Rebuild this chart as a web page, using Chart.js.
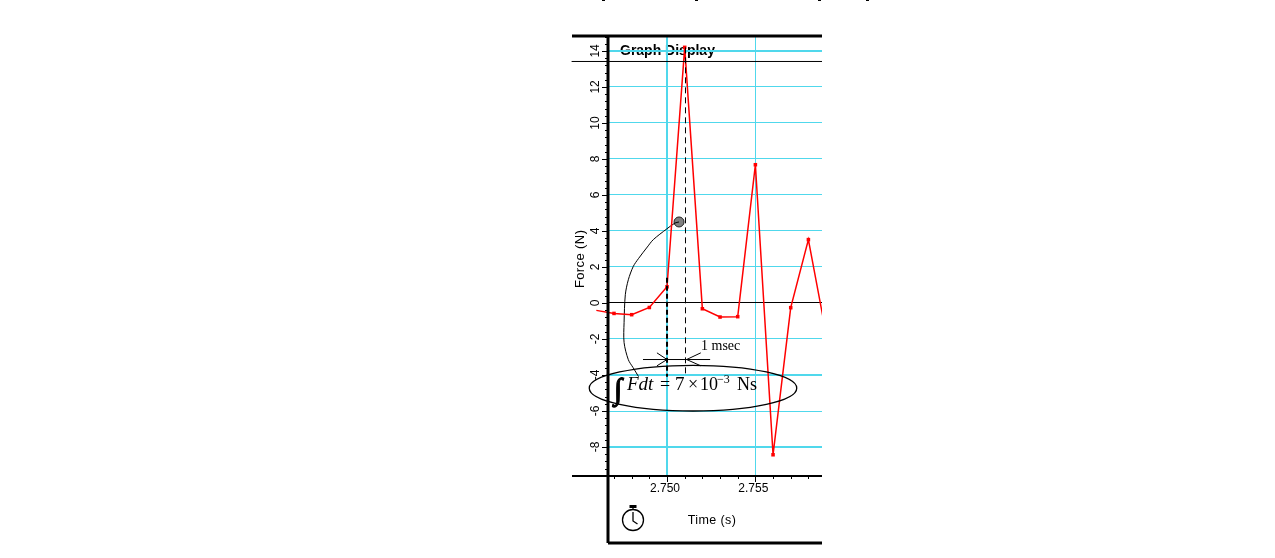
<!DOCTYPE html>
<html lang="en">
<head>
  <meta charset="UTF-8">
  <title>Graph Display</title>
  <script src="https://cdn.jsdelivr.net/npm/chart.js"></script>
  <style>
    body { margin: 0; background: #fff; }
    canvas { display: block; }
  </style>
</head>
<body>
  <canvas id="forceChart" width="1275" height="558"></canvas>

  <script>
    // values
    const timeValues = [2.746, 2.747, 2.748, 2.749, 2.750, 2.751, 2.752, 2.753, 2.754, 2.755, 2.756, 2.757, 2.758, 2.759];
    const forceValues = [-0.41, -0.58, -0.65, -0.25, 0.9, 14.2, -0.32, -0.78, -0.76, 7.68, -8.43, -0.26, 3.52, -1.7];

    const cursorTimes = [2.7446, 2.7588];
    const cursorForces = [13.415, 13.415];
    const leftDashTimes = [2.75, 2.75];
    const leftDashForces = [1.4, -4.1];
    const rightDashTimes = [2.751045, 2.751045];
    const rightDashForces = [14.2, -4.1];

    const spanTimes = [2.74864, 2.75244];
    const spanForces = [-3.14, -3.14];
    const leftArrowTimes = [2.74943, 2.75, 2.74943];
    const leftArrowForces = [-2.77, -3.14, -3.49];
    const rightArrowTimes = [2.75191, 2.75111, 2.75191];
    const rightArrowForces = [-2.77, -3.14, -3.49];

    const leaderTimes = [2.75068, 2.75045, 2.74998, 2.749225, 2.748885, 2.74838, 2.74809, 2.74781, 2.74764, 2.74757, 2.74757, 2.74781, 2.74808, 2.74839];
    const leaderForces = [4.5, 4.44, 4.11, 3.52, 3.11, 2.46, 2.03, 1.29, 0.46, -1.09, -2.2, -3.15, -3.59, -4.09];
    const markerTime = [2.75068];
    const markerForce = [4.5];

    const ellipseTime = 2.75147, ellipseForce = -4.73, ellipseHalfTime = 0.00587, ellipseHalfForce = 1.27;

    const pairs = (xs, ys) => xs.map((x, i) => ({ x: x, y: ys[i] }));
    const black = { borderColor: '#000', pointRadius: 0, borderWidth: 1, clip: { left: 40, right: 0, top: 0, bottom: 0 } };

    const overlay = {
      id: 'overlay',
      beforeDraw(chart) {
        const ctx = chart.ctx;
        ctx.save();
        ctx.fillStyle = '#000';
        ctx.font = 'bold 14px "Liberation Sans"';
        ctx.textBaseline = 'middle';
        ctx.fillText('Graph Display', chart.chartArea.left + 12, chart.scales.y.getPixelForValue(14));
        ctx.restore();
      },
      afterDraw(chart) {
        const ctx = chart.ctx, a = chart.chartArea, sx = chart.scales.x, sy = chart.scales.y;
        ctx.save();
        ctx.strokeStyle = '#000';
        ctx.fillStyle = '#000';

        // cut off text tails at the very top of the page
        [602, 695, 818, 866].forEach(x => ctx.fillRect(x, 0, 3, 1));

        // frame
        ctx.lineWidth = 3;
        ctx.beginPath();
        ctx.moveTo(a.left - 36, a.top); ctx.lineTo(a.right, a.top);
        ctx.moveTo(a.left, a.top); ctx.lineTo(a.left, sx.bottom);
        ctx.moveTo(a.left, sx.bottom); ctx.lineTo(a.right, sx.bottom);
        ctx.stroke();
        ctx.lineWidth = 2;
        ctx.beginPath();
        ctx.moveTo(a.left - 36, a.bottom); ctx.lineTo(a.right, a.bottom);
        ctx.stroke();

        // tick marks, the labelled ones are longer
        ctx.lineWidth = 1;
        ctx.beginPath();
        sy.ticks.forEach(t => {
          const p = Math.round(sy.getPixelForValue(t.value)) + 0.5;
          ctx.moveTo(a.left, p); ctx.lineTo(a.left - (t.label ? 6 : 3), p);
        });
        sx.ticks.forEach(t => {
          const p = Math.round(sx.getPixelForValue(t.value)) + 0.5;
          ctx.moveTo(p, a.bottom); ctx.lineTo(p, a.bottom + (t.label ? 6 : 3));
        });
        ctx.stroke();

        // ellipse round the integral
        ctx.lineWidth = 1.3;
        ctx.beginPath();
        ctx.ellipse(sx.getPixelForValue(ellipseTime), sy.getPixelForValue(ellipseForce),
          sx.getPixelForValue(ellipseTime + ellipseHalfTime) - sx.getPixelForValue(ellipseTime),
          sy.getPixelForValue(ellipseForce - ellipseHalfForce) - sy.getPixelForValue(ellipseForce),
          0, 0, Math.PI * 2);
        ctx.stroke();

        // annotation text
        ctx.textBaseline = 'alphabetic';
        const base = sy.getPixelForValue(-4.83);
        const put = (text, x, y, font) => { ctx.font = font; ctx.fillText(text, x, y); };
        const serif = '"Liberation Serif"';
        put('\u222B', a.left + 6, base + 9, 'bold 30px ' + serif);
        ctx.lineWidth = 1.2;
        ctx.strokeText('\u222B', a.left + 6, base + 9);
        put('Fdt', a.left + 19, base, 'italic 19px ' + serif);
        put('=', a.left + 52, base, '18px ' + serif);
        put('7', a.left + 67, base, '19px ' + serif);
        put('\u00D7', a.left + 80, base, '18px ' + serif);
        put('10', a.left + 92, base, '18px ' + serif);
        put('\u22123', a.left + 109, base - 7, '12px ' + serif);
        put('Ns', a.left + 129, base, '18px ' + serif);
        put('1 msec', a.left + 93, sy.getPixelForValue(-2.6), '14px ' + serif);

        // axis names
        ctx.textAlign = 'center';
        ctx.textBaseline = 'middle';
        ctx.letterSpacing = '0.4px';
        put('Time (s)', a.left + 104, sx.bottom - 22, '12.5px "Liberation Sans"');
        ctx.translate(a.left - 28, sy.getPixelForValue(2.45));
        ctx.rotate(-Math.PI / 2);
        put('Force (N)', 0, 0, '13px "Liberation Sans"');
        ctx.setTransform(1, 0, 0, 1, 0, 0);
        ctx.letterSpacing = '0px';

        // stopwatch
        const cx = a.left + 25, cy = sx.bottom - 23;
        ctx.lineWidth = 1.3;
        ctx.beginPath();
        ctx.arc(cx, cy, 10.5, 0, Math.PI * 2);
        ctx.moveTo(cx, cy - 8); ctx.lineTo(cx, cy + 1); ctx.lineTo(cx + 4.5, cy + 4);
        ctx.moveTo(cx, cy - 14); ctx.lineTo(cx, cy - 10);
        ctx.stroke();
        ctx.fillRect(cx - 3.5, cy - 15, 7, 3);
        ctx.restore();
      }
    };

    new Chart(document.getElementById('forceChart').getContext('2d'), {
      type: 'line',
      plugins: [overlay],
      data: {
        datasets: [
          { data: pairs(cursorTimes, cursorForces), ...black },
          { data: pairs(leftDashTimes, leftDashForces), ...black, borderWidth: 2, borderDash: [5, 3] },
          { data: pairs(rightDashTimes, rightDashForces), ...black, borderDash: [6, 4] },
          { data: pairs(spanTimes, spanForces), ...black },
          { data: pairs(leftArrowTimes, leftArrowForces), ...black },
          { data: pairs(rightArrowTimes, rightArrowForces), ...black },
          { data: pairs(timeValues, forceValues), borderColor: '#f00', backgroundColor: '#f00', borderWidth: 1.5,
            pointStyle: 'rect', pointRadius: 2.5, pointBorderWidth: 0, clip: { left: 40, right: 0, top: 0, bottom: 0 } },
          { data: pairs(leaderTimes, leaderForces), ...black, tension: 0.3 },
          { data: pairs(markerTime, markerForce), ...black, pointRadius: 5, pointBackgroundColor: '#808080', pointBorderColor: '#222', pointBorderWidth: 1 }
        ]
      },
      options: {
        responsive: false,
        animation: false,
        parsing: false,
        layout: { padding: { left: 572, right: 453, top: 36, bottom: 15 } },
        plugins: { legend: { display: false }, tooltip: { enabled: false } },
        scales: {
          x: {
            type: 'linear',
            min: 2.74666,
            max: 2.75877,
            afterFit: s => { s.height = 67; },
            border: { display: false },
            grid: {
              drawTicks: false,
              color: c => Math.round(c.tick.value * 1000) % 5 === 0 ? '#50d8ec' : 'transparent',
              lineWidth: c => Math.round(c.tick.value * 1000) === 2750 ? 2 : 1
            },
            ticks: {
              stepSize: 0.001,
              includeBounds: false,
              autoSkip: false,
              maxRotation: 0,
              padding: 5,
              labelOffset: -2,
              color: '#000',
              font: { family: 'Liberation Sans', size: 12 },
              callback: v => Math.round(v * 1000) % 5 === 0 ? v.toFixed(3) : ''
            }
          },
          y: {
            min: -9.61,
            max: 14.83,
            afterFit: s => { s.width = 36; },
            border: { display: false },
            grid: {
              drawTicks: false,
              color: c => {
                const v = Math.round(c.tick.value * 10);
                if (v === 0) return '#000';
                return v % 20 === 0 ? '#50d8ec' : 'transparent';
              },
              lineWidth: c => [140, -40, -80].includes(Math.round(c.tick.value * 10)) ? 2 : 1
            },
            ticks: {
              stepSize: 0.4,
              includeBounds: false,
              autoSkip: false,
              minRotation: 90,
              maxRotation: 90,
              crossAlign: 'center',
              padding: 6,
              color: '#000',
              font: { family: 'Liberation Sans', size: 12 },
              callback: v => Math.round(v * 10) % 20 === 0 ? String(Math.round(v)) : ''
            }
          }
        }
      }
    });
  </script>
</body>
</html>
